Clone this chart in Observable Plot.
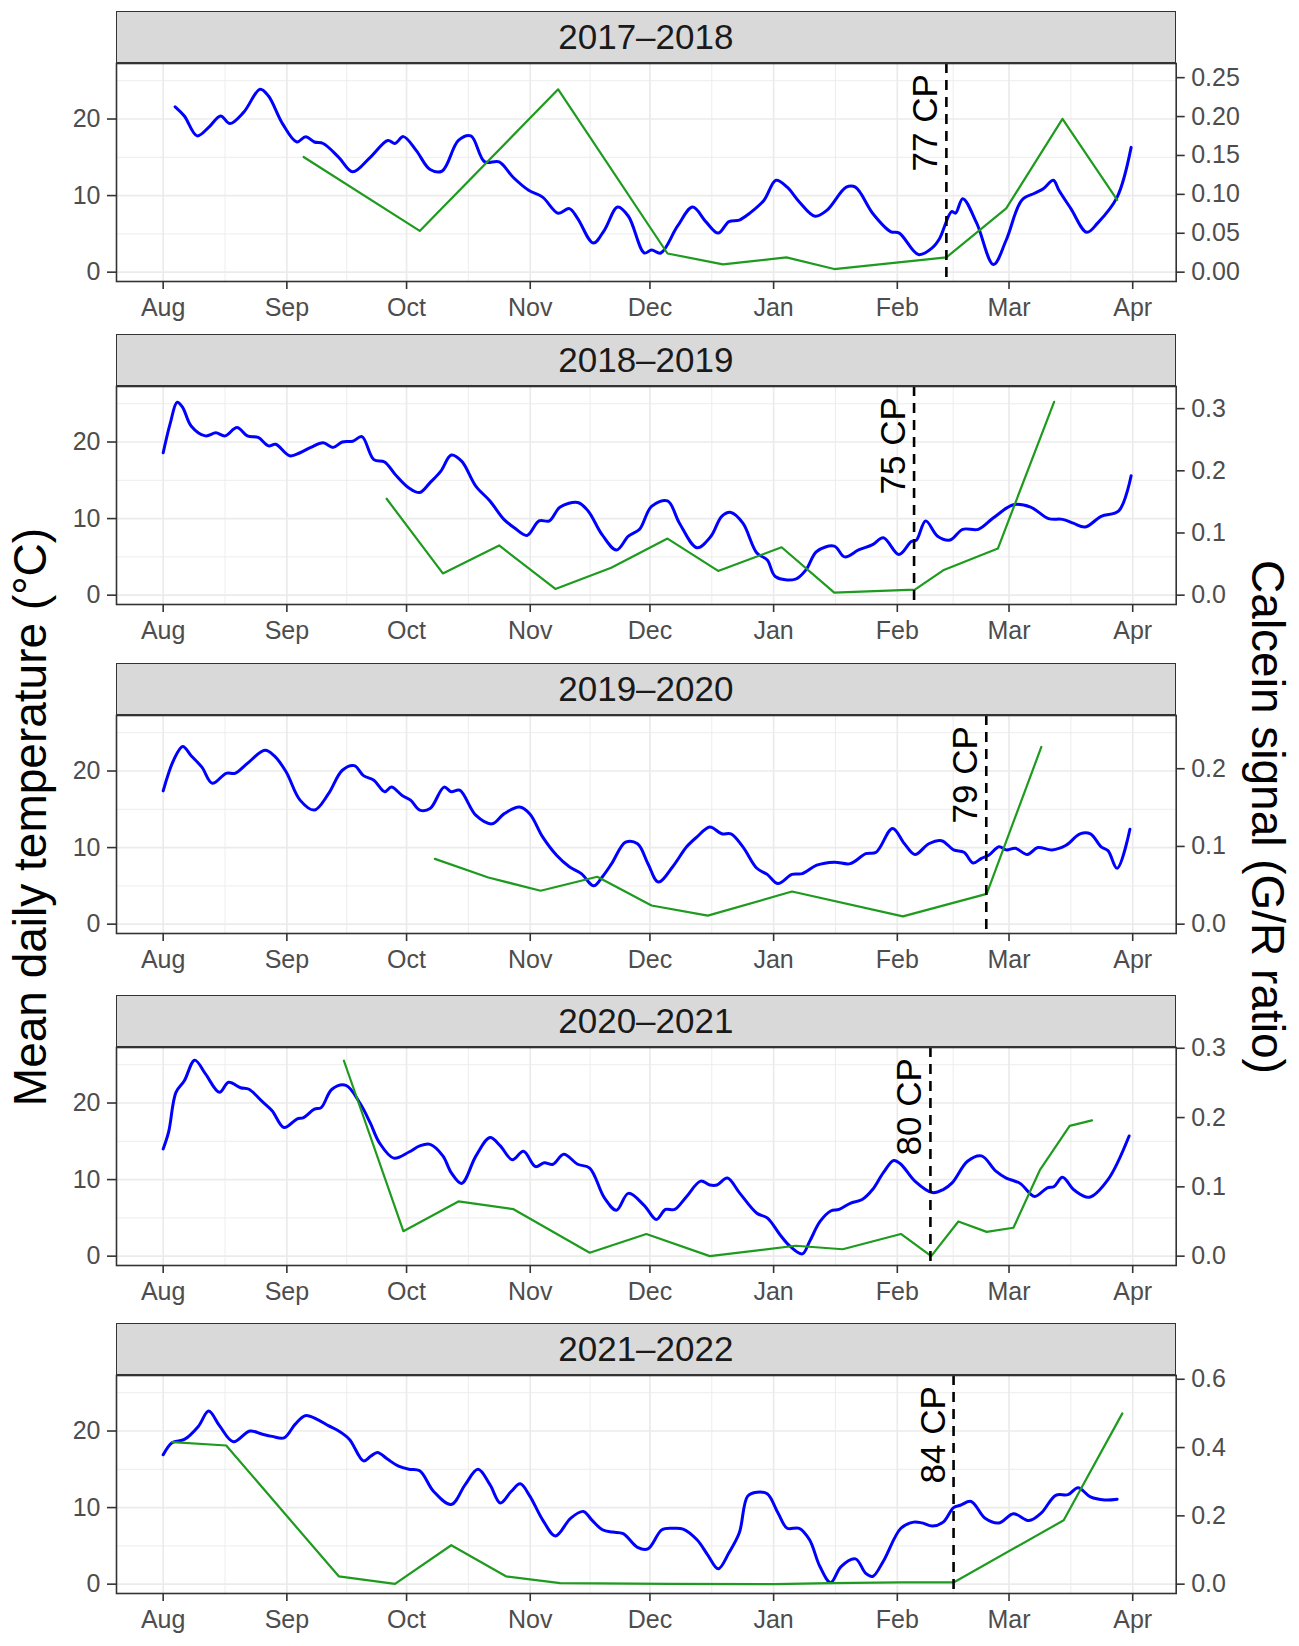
<!DOCTYPE html>
<html><head><meta charset="utf-8">
<script src="https://cdn.jsdelivr.net/npm/d3@7"></script>
<script src="https://cdn.jsdelivr.net/npm/@observablehq/plot@0.6"></script>
<style>
body{margin:0;background:#fff;font-family:"Liberation Sans",Arial,Helvetica,sans-serif;}
#fig{position:relative;width:1299px;height:1646px;overflow:hidden;}
.strip{position:absolute;box-sizing:border-box;background:#D9D9D9;border:1.6px solid #333;display:flex;align-items:center;justify-content:center;font-size:35px;color:#1A1A1A;}
.panel{position:absolute;left:0;}
.ytitle{position:absolute;font-size:46px;white-space:nowrap;color:#000;line-height:1;}
</style></head><body><div id="fig"></div>
<script>
// ---- data: x = days since 1 Aug, temperature in °C ----
const monthTicks = [0, 31, 61, 92, 122, 153, 184, 212, 243];
const monthLabels = ["Aug","Sep","Oct","Nov","Dec","Jan","Feb","Mar","Apr"];
const tempTicks = [0, 10, 20];

const seasonLabels = ["2017–2018","2018–2019","2019–2020","2020–2021","2021–2022"];
const cpDays = [196.3, 188.2, 206.3, 192.3, 198.1];
const cpLabels = ["77 CP","75 CP","79 CP","80 CP","84 CP"];
const secFactor = [101.6, 81.2, 101.5, 90.5, 44.6]; // temperature units per calcein unit
const calcTicks1718 = [0, 0.05, 0.10, 0.15, 0.20, 0.25];
const calcTicks1819 = [0, 0.1, 0.2, 0.3];
const calcTicks1920 = [0, 0.1, 0.2];
const calcTicks2021 = [0, 0.1, 0.2, 0.3];
const calcTicks2122 = [0, 0.2, 0.4, 0.6];
const calcTickFormats = [".2f", ".1f", ".1f", ".1f", ".1f"];

const temp1718 = [[3,21.6],[5.3,20.4],[8.5,17.8],[11.4,18.9],[14.4,20.4],[16.7,19.4],[20.2,20.9],[24.3,23.9],[26.4,23.0],[29.9,19.4],[33.5,17.0],[35.7,17.7],[37.9,17.0],[40.1,16.8],[44,15.0],[47.5,13.1],[51.9,15.0],[56.3,17.2],[58.1,16.8],[60.2,17.7],[63.4,15.9],[66.9,13.4],[69.9,13.2],[74,17.2],[77.1,17.8],[80.6,14.4],[84.2,14.4],[87.7,12.4],[91.6,10.7],[95.1,9.8],[99,7.7],[101.8,8.3],[103.9,7.0],[107.8,3.8],[110.6,5.5],[113.9,8.5],[116.6,7.3],[120.6,2.5],[122.4,2.9],[124.7,2.5],[128.9,6.0],[132.7,8.5],[136,6.6],[139.1,5.1],[141.8,6.6],[144.4,6.8],[147,7.7],[150.6,9.4],[153.6,12.0],[156.4,11.1],[159.4,9.2],[163.4,7.3],[166.4,8.1],[171.2,11.1],[173.5,11.1],[177.8,7.7],[182.3,5.3],[184.5,5.1],[189.3,2.3],[192.8,3.2],[194.6,4.4],[197.6,7.9],[198.6,7.7],[200.4,9.6],[203.9,6.4],[208.1,1.0],[211.3,4.2],[215.2,9.4],[218.4,10.3],[220.6,10.9],[223.1,12.0],[224.5,10.7],[227.5,8.3],[231.5,5.2],[234.2,6.4],[239.1,9.8],[242.6,16.3]];
const calc1718 = [[35.2,0.148],[64.3,0.053],[99,0.235],[126.4,0.024],[140.3,0.010],[156.2,0.019],[168.2,0.004],[196.3,0.019],[211.3,0.082],[225.4,0.197],[239.1,0.093]];

const temp1819 = [[0,18.6],[1.8,22.5],[3.5,25.2],[4.9,24.5],[7,22.1],[10.6,20.8],[13.2,21.2],[15.5,20.8],[18.5,21.9],[21.1,20.8],[23.8,20.6],[26.4,19.5],[28.2,19.7],[31.7,18.2],[34.3,18.6],[37,19.3],[40.1,19.9],[42.6,19.3],[44.9,20.0],[47.5,20.1],[49.8,20.7],[52.8,17.7],[55.5,17.4],[58.1,15.8],[61.6,14.0],[64.3,13.4],[66.9,14.7],[69.6,16.2],[72.2,18.3],[74.8,17.5],[78.4,14.2],[81.9,12.3],[85.4,9.9],[88,8.8],[91.2,7.8],[94.2,9.7],[96.8,9.7],[99.5,11.5],[103.9,12.1],[106.5,11.0],[110,7.9],[113.6,5.9],[116.6,7.7],[119.4,8.6],[122.4,11.6],[126.4,12.3],[129.4,9.4],[133.8,6.2],[137.3,7.7],[140,10.3],[142.3,10.8],[145.3,9.4],[148.8,5.5],[151.4,4.6],[153.5,2.4],[158.5,2.1],[161.1,3.3],[163.8,5.7],[168.2,6.4],[170.8,5.0],[174.3,5.9],[177.8,6.6],[180.5,7.5],[184.4,5.3],[187.5,7.0],[188.8,7.2],[191.1,9.7],[194.1,7.7],[197.2,7.2],[200.4,8.6],[204.3,8.6],[208.1,10.1],[213.1,11.8],[217.4,11.5],[221.9,10.0],[225.4,9.9],[228.1,9.4],[231.1,8.9],[235.1,10.3],[239.5,11.0],[242.6,15.6]];
const calc1819 = [[56,0.155],[70.1,0.035],[84.2,0.080],[98.3,0.010],[112.3,0.044],[126.4,0.091],[139.1,0.039],[155,0.077],[168.2,0.004],[188.4,0.009],[195.5,0.040],[209.2,0.075],[223.3,0.311]];

const temp1920 = [[0,17.4],[2.6,21.4],[4.9,23.2],[7,22.0],[9.7,20.5],[12.3,18.4],[15.8,19.7],[18,19.7],[21.1,21.0],[25.5,22.7],[27.8,22.0],[30.8,19.9],[34.3,16.2],[37.9,14.9],[41.4,17.0],[44.9,20.1],[47.9,20.7],[50.2,19.4],[52.8,18.8],[55.5,17.3],[57.2,17.9],[59.9,16.8],[62,16.2],[64.3,14.9],[66.9,15.1],[70.4,17.9],[72.2,17.3],[74.3,17.5],[78.4,14.2],[82.4,13.1],[85.4,14.4],[89.3,15.3],[91.9,14.4],[95.1,11.4],[98.6,9.0],[101.8,7.5],[104.8,6.6],[107.9,5.0],[110.1,6.2],[112.4,7.9],[115.9,10.7],[118.9,10.5],[121.5,7.9],[124.1,5.5],[127.7,7.5],[131.2,10.1],[133.8,11.4],[137,12.7],[140,11.8],[142.3,11.8],[145.3,10.1],[148.8,7.3],[151.4,6.5],[154.1,5.3],[157.6,6.5],[160.2,6.6],[163.8,7.7],[168.2,8.1],[172.2,7.9],[176.1,9.2],[178.7,9.4],[182.8,12.5],[185.8,10.5],[188.4,9.1],[191.9,10.5],[195.1,10.9],[198.1,9.7],[200.7,9.4],[203,8.0],[205.1,8.6],[206.9,9.0],[209.5,10.1],[211.3,9.7],[213.6,9.9],[216.6,9.1],[219.2,10.0],[222.8,9.7],[226.3,10.3],[229.8,11.8],[232.4,11.8],[235.1,10.1],[236.8,9.6],[239.1,7.3],[242.3,12.4]];
const calc1920 = [[68.1,0.084],[81.5,0.060],[94.6,0.043],[108.8,0.061],[122.4,0.024],[136.5,0.011],[157.6,0.042],[185.4,0.010],[206.4,0.039],[220.1,0.228]];

const temp2021 = [[0,14.0],[1.4,16.3],[3.2,21.4],[5.3,22.9],[7.9,25.6],[10.6,23.8],[14.1,21.4],[16.4,22.7],[19.4,22.0],[21.5,21.8],[24.6,20.3],[27.3,19.0],[30.3,16.8],[33.5,17.9],[35.2,18.1],[37.9,19.2],[39.6,19.4],[42.3,21.8],[45.8,22.3],[49.3,20.0],[51.9,17.4],[54.2,14.8],[57.8,12.8],[61.6,13.6],[64.3,14.4],[66.9,14.6],[70.1,13.1],[72.2,10.9],[74.8,9.5],[78.4,13.1],[81.9,15.5],[84.5,14.4],[87.5,12.6],[90.3,13.7],[93.3,11.7],[95.5,12.2],[97.7,12.0],[100.4,13.3],[103.9,12.0],[106.9,11.5],[110.6,7.6],[113.6,6.0],[116.6,8.2],[120.6,6.6],[123.6,4.8],[125.9,6.1],[128.2,6.1],[131.2,7.8],[134.7,9.8],[137,9.3],[138.8,9.3],[141.4,10.2],[144.4,8.3],[148.8,5.6],[151.4,5.0],[154.6,2.8],[157.1,1.3],[160.2,0.3],[162,1.9],[164.6,4.5],[167.3,5.9],[169.4,6.1],[172.2,6.9],[175.2,7.4],[177.8,8.7],[180.5,10.9],[183.1,12.5],[184.9,12.0],[188.4,9.8],[192.8,8.3],[195.5,8.7],[197.8,9.6],[201.6,12.4],[205.1,13.1],[208.7,11.1],[211.3,10.2],[214.8,9.5],[218.4,7.8],[221.5,8.9],[223.3,9.1],[225.4,10.3],[228.4,8.6],[232.1,7.7],[236.8,10.0],[242.1,15.7]];
const calc2021 = [[45.3,0.282],[60.2,0.036],[74,0.079],[87.7,0.068],[106.9,0.005],[121.1,0.032],[137,0.000],[158.5,0.015],[170.3,0.010],[184.9,0.032],[192.5,0.000],[199.3,0.050],[206.4,0.035],[213.1,0.041],[219.8,0.125],[227.2,0.188],[232.8,0.196]];

const temp2122 = [[0,16.9],[2.3,18.5],[5.3,18.9],[8.8,20.6],[11.4,22.6],[14.1,20.7],[17.6,18.6],[21.7,20.0],[24.7,19.6],[27.3,19.3],[30.3,19.1],[33.1,20.9],[35.6,22.0],[38.7,21.5],[41.4,20.7],[44,20.0],[46.7,18.9],[50.2,16.1],[52,16.7],[53.7,17.2],[56.3,16.3],[59,15.4],[61.6,15.0],[64.3,14.8],[67.8,12.1],[72.2,10.4],[75.7,13.0],[78.9,15.0],[81.9,13.0],[84.5,10.6],[87.2,12.1],[89.5,13.1],[91.9,11.5],[95.1,8.4],[98.3,6.3],[102.1,8.6],[105.3,9.5],[107.4,8.4],[110.1,7.1],[112.7,6.8],[115.3,6.6],[118.9,4.8],[121.5,4.6],[125,7.1],[127.7,7.3],[130.3,7.2],[133.8,5.8],[136.5,3.8],[139.1,2.0],[141.8,4.1],[144.4,6.7],[146.5,11.5],[148.8,12.0],[151.4,11.8],[154.1,9.3],[156.4,7.3],[159.4,7.3],[162,5.8],[164.6,2.3],[167.3,0.2],[169.9,2.3],[173.5,3.3],[176.1,1.4],[177.8,1.0],[180.5,3.0],[184.9,7.3],[188.1,8.1],[190.2,8.0],[192.8,7.6],[195.5,8.1],[198.1,10.0],[199.8,10.3],[202.5,10.8],[206,8.6],[209.5,8.0],[213.1,9.2],[217,8.3],[220.1,9.3],[223.7,11.6],[226.8,11.7],[229.3,12.6],[232.4,11.4],[236,11.0],[239.1,11.1]];
const calc2122 = [[2.3,0.416],[15.8,0.406],[44,0.023],[58.1,0.001],[72.2,0.114],[85.9,0.023],[99.5,0.003],[126.8,0.001],[153.2,0.000],[167.3,0.003],[184.9,0.005],[198.1,0.005],[225.7,0.187],[240.4,0.500]];

const temps = [temp1718, temp1819, temp1920, temp2021, temp2122];
const calcs = [calc1718, calc1819, calc1920, calc2021, calc2122];
const calcTicks = [calcTicks1718, calcTicks1819, calcTicks1920, calcTicks2021, calcTicks2122];

// ---- layout ----
const fig = document.getElementById("fig");
const FONT = "'Liberation Sans', Arial, Helvetica, sans-serif";
const stripTops = [11, 334, 663, 995, 1323];
const stripH = 52, plotH = 218, mTop = 2, mBottom = 48;
const panelLeft = 116, panelRight = 1175.7;
const xDomain = [-11.7, 253.9];
const yDomain = [-1.22, 27.25];
const minorX = d3.pairs(monthTicks).map(([a, b]) => (a + b) / 2);
const minorY = d3.pairs(tempTicks).map(([a, b]) => (a + b) / 2).concat([25]);
const GREEN = "#1E9B1E";
const TICKFS = 25;

seasonLabels.forEach((lab, i) => {
  const top = stripTops[i];
  const k = secFactor[i];
  const strip = document.createElement("div");
  strip.className = "strip";
  strip.style.left = panelLeft + "px";
  strip.style.top = top + "px";
  strip.style.width = (panelRight - panelLeft) + "px";
  strip.style.height = stripH + "px";
  strip.textContent = lab;

  const fmt = d3.format(calcTickFormats[i]);
  const chart = Plot.plot({
    width: 1299,
    height: mTop + plotH + mBottom,
    marginLeft: panelLeft,
    marginRight: 1299 - panelRight,
    marginTop: mTop,
    marginBottom: mBottom,
    x: {domain: xDomain},
    y: {domain: yDomain},
    style: {fontFamily: FONT, fontSize: TICKFS + "px", overflow: "visible"},
    marks: [
      Plot.gridX(minorX, {stroke: "#EBEBEB", strokeOpacity: 1, strokeWidth: 0.9}),
      Plot.gridY(minorY, {stroke: "#EBEBEB", strokeOpacity: 1, strokeWidth: 0.9}),
      Plot.gridX(monthTicks, {stroke: "#EBEBEB", strokeOpacity: 1, strokeWidth: 1.7}),
      Plot.gridY(tempTicks, {stroke: "#EBEBEB", strokeOpacity: 1, strokeWidth: 1.7}),
      Plot.line(temps[i], {x: d => d[0], y: d => d[1], stroke: "#0000FF", strokeWidth: 3, curve: "catmull-rom"}),
      Plot.line(calcs[i], {x: d => d[0], y: d => d[1] * k, stroke: GREEN, strokeWidth: 2.2}),
      Plot.ruleX([cpDays[i]], {stroke: "#000", strokeWidth: 2.6, strokeDasharray: "10,7"}),
      Plot.text([cpLabels[i]], {x: () => cpDays[i], y: () => 19.5, text: d => d, rotate: -90,
        lineAnchor: "bottom", textAnchor: "middle", dx: -9, fontSize: 35, fill: "#000"}),
      Plot.frame({stroke: "#333", strokeWidth: 1.6}),
      Plot.axisX(monthTicks, {anchor: "bottom", tickSize: 8, tickPadding: 9, stroke: "#333", strokeWidth: 1.6,
        fill: "#4D4D4D", fontSize: TICKFS, label: null, tickFormat: d => monthLabels[monthTicks.indexOf(d)]}),
      Plot.axisY(tempTicks, {anchor: "left", tickSize: 9, tickPadding: 7, stroke: "#333", strokeWidth: 1.6,
        fill: "#4D4D4D", fontSize: TICKFS, label: null}),
      Plot.axisY(calcTicks[i].map(v => v * k), {anchor: "right", tickSize: 8, tickPadding: 7, stroke: "#333", strokeWidth: 1.6,
        fill: "#4D4D4D", fontSize: TICKFS, label: null, tickFormat: d => fmt(d / k)})
    ]
  });
  chart.classList.add("panel");
  chart.style.top = (top + stripH - mTop) + "px";
  fig.appendChild(chart);
  fig.appendChild(strip);
});

function addTitle(text, cx, cy, angle, size) {
  const t = document.createElement("div");
  t.className = "ytitle";
  t.textContent = text;
  t.style.left = cx + "px";
  t.style.top = cy + "px";
  t.style.fontSize = size + "px";
  t.style.transform = `translate(-50%,-50%) rotate(${angle}deg)`;
  fig.appendChild(t);
}
addTitle("Mean daily temperature (°C)", 30, 817, -90, 46);
addTitle("Calcein signal (G/R ratio)", 1268, 817, 90, 46);
</script></body></html>
